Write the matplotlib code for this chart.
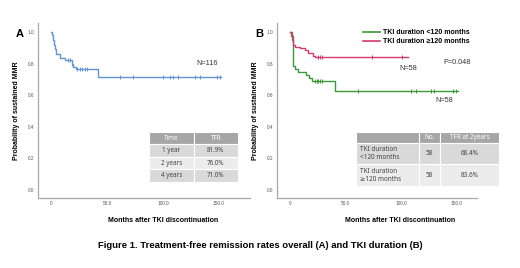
import matplotlib
matplotlib.use("Agg")
import matplotlib.pyplot as plt
import numpy as np
from matplotlib.lines import Line2D

plt.rcParams['font.family'] = ['Liberation Sans', 'DejaVu Sans']

# ---------------- data ----------------
# Panel A: overall KM
a_times = [0, 1, 2, 3, 3.5, 4.5, 8, 12.5, 18.5, 20, 22, 42]
a_surv = [1.0, 0.98, 0.95, 0.92, 0.89, 0.86, 0.833, 0.82, 0.80, 0.78, 0.766, 0.713]
a_end = 152
a_censor = [15, 17, 19, 23, 26, 28, 30, 32, 61.6, 73, 100, 106, 109, 113.6, 128.6, 133, 148, 151]

# Panel B: by TKI duration
lo_times = [0, 1.5, 2.4, 2.6, 4.5, 7.5, 14, 17, 19.5, 40.5]
lo_surv = [1.0, 0.95, 0.87, 0.785, 0.764, 0.745, 0.73, 0.71, 0.69, 0.63]
lo_end = 151
lo_censor = [22.5, 24, 25.5, 27, 28.7, 61, 109, 113, 126.4, 129, 146.6, 149]

hi_times = [0, 1, 2.4, 4.5, 9, 13.5, 16.5, 21, 22.5]
hi_surv = [1.0, 0.976, 0.92, 0.906, 0.898, 0.885, 0.87, 0.85, 0.84]
hi_end = 106
hi_censor = [25, 27, 29, 73.4, 100.3]

x_ticks = [0, 50, 100, 150]
x_ticklabels = ['0', '50.0', '100.0', '150.0']
y_ticks = [0.0, 0.2, 0.4, 0.6, 0.8, 1.0]
y_ticklabels = ['0.0', '0.2', '0.4', '0.6', '0.8', '1.0']

tableA_header = ['Time', 'TFR']
tableA_rows = [['1 year', '81.9%'], ['2 years', '76.0%'], ['4 years', '71.0%']]

tableB_header = ['', 'No.', 'TFR at 2years']
tableB_rows = [['TKI duration\n<120 months', '58', '68.4%'],
               ['TKI duration\n\u2265120 months', '58', '83.6%']]

legend_labels = ['TKI duration <120 months', 'TKI duration \u2265120 months']

blue = '#5f97d3'
green = '#3a9a3a'
red = '#d63a6e'
spine_col = '#a8a8a8'

W, H = 520, 268
fig = plt.figure(figsize=(W / 100, H / 100), dpi=100)


def px_axes(x0, x1, ytop, ybot):
    return fig.add_axes([x0 / W, 1 - ybot / H, (x1 - x0) / W, (ybot - ytop) / H])


def km(ax, times, surv, end, censor, color):
    t = list(times) + [end]
    s = list(surv) + [surv[-1]]
    ax.step(t, s, where='post', color=color, lw=1.0)
    cs = [surv[np.searchsorted(times, c, side='right') - 1] for c in censor]
    ax.plot(censor, cs, linestyle='none', marker='|', ms=2.5, mew=0.7, color=color)


def style(ax, xlim, xlabel_x):
    ax.set_xlim(*xlim)
    ax.set_ylim(-0.05, 1.057)
    for sp in ['top', 'right']:
        ax.spines[sp].set_visible(False)
    for sp in ['left', 'bottom']:
        ax.spines[sp].set_color(spine_col)
        ax.spines[sp].set_linewidth(0.9)
    ax.set_xticks(x_ticks)
    ax.set_xticklabels(x_ticklabels)
    ax.set_yticks(y_ticks)
    ax.set_yticklabels(y_ticklabels)
    ax.tick_params(length=0, labelsize=3.4, colors='#555555', pad=2.5)
    ax.set_xlabel('Months after TKI discontinuation', fontsize=5.0, fontweight='bold')
    ax.xaxis.set_label_coords(xlabel_x, -0.11)
    ax.set_ylabel('Probability of sustained MMR', fontsize=5.0, fontweight='bold', labelpad=6)


def make_table(ax, header, rows, bbox, colw, row_h, hdr_color, row_colors, fs):
    tb = ax.table(cellText=[header] + rows, bbox=bbox, cellLoc='center', colWidths=colw)
    tb.auto_set_font_size(False)
    for (r, c), cell in tb.get_celld().items():
        cell.set_edgecolor('white')
        cell.set_linewidth(0.8)
        cell.set_height(row_h[r])
        txt = cell.get_text()
        txt.set_fontsize(fs)
        txt.set_family(['Noto Sans', 'DejaVu Sans'])
        if r == 0:
            cell.set_facecolor(hdr_color)
            txt.set_color('white')
            txt.set_fontweight('bold')
        else:
            cell.set_facecolor(row_colors[(r - 1) % len(row_colors)])
            txt.set_color('#444444')
    return tb


# ---------------- Panel A ----------------
axA = px_axes(38, 250, 23, 198)
style(axA, (-11.6, 177.7), 0.59)
km(axA, a_times, a_surv, a_end, a_censor, blue)
axA.text(139, 0.80, 'N=116', fontsize=5.2, color='#333333', ha='center', va='center')
tA = make_table(axA, tableA_header, tableA_rows,
                [0.524, 0.091, 0.42, 0.286], [0.5, 0.5],
                [0.24, 0.253, 0.253, 0.253], '#a6a6a6', ['#d9d9d9', '#ececec'], 4.5)
fig.text(16 / W, 1 - 34 / H, 'A', fontsize=8, fontweight='bold', ha='left', va='center')

# ---------------- Panel B ----------------
axB = px_axes(277, 477, 23, 198)
style(axB, (-11.7, 168), 0.615)
km(axB, lo_times, lo_surv, lo_end, lo_censor, green)
km(axB, hi_times, hi_surv, hi_end, hi_censor, red)
handles = [Line2D([], [], color=green, lw=1.2), Line2D([], [], color=red, lw=1.2)]
leg = axB.legend(handles, legend_labels, loc='upper left', bbox_to_anchor=(0.40, 1.0),
                 frameon=False, handlelength=2.4, handletextpad=0.5, labelspacing=0.3,
                 prop={'size': 5.0, 'weight': 'bold'})
axB.text(106, 0.77, 'N=58', fontsize=5.2, color='#333333', ha='center', va='center')
axB.text(150, 0.81, 'P=0.048', fontsize=5.2, color='#333333', ha='center', va='center')
axB.text(139, 0.567, 'N=58', fontsize=5.2, color='#333333', ha='center', va='center')
tB = make_table(axB, tableB_header, tableB_rows,
                [0.395, 0.0686, 0.715, 0.309], [63 / 143, 21 / 143, 59 / 143],
                [0.2, 0.4, 0.4], '#a6a6a6', ['#d9d9d9', '#ececec'], 4.6)
for (r, c), cell in tB.get_celld().items():
    if r > 0 and c == 0:
        cell.get_text().set_ha('left')
        cell._loc = 'left'
        cell.PAD = 0.06
fig.text(255 / W, 1 - 34 / H, 'B', fontsize=8, fontweight='bold', ha='left', va='center')

fig.text(0.5, 1 - 246 / H, 'Figure 1. Treatment-free remission rates overall (A) and TKI duration (B)',
         fontsize=6.8, fontweight='bold', ha='center', va='center')

fig.savefig('out.png', dpi=100)
